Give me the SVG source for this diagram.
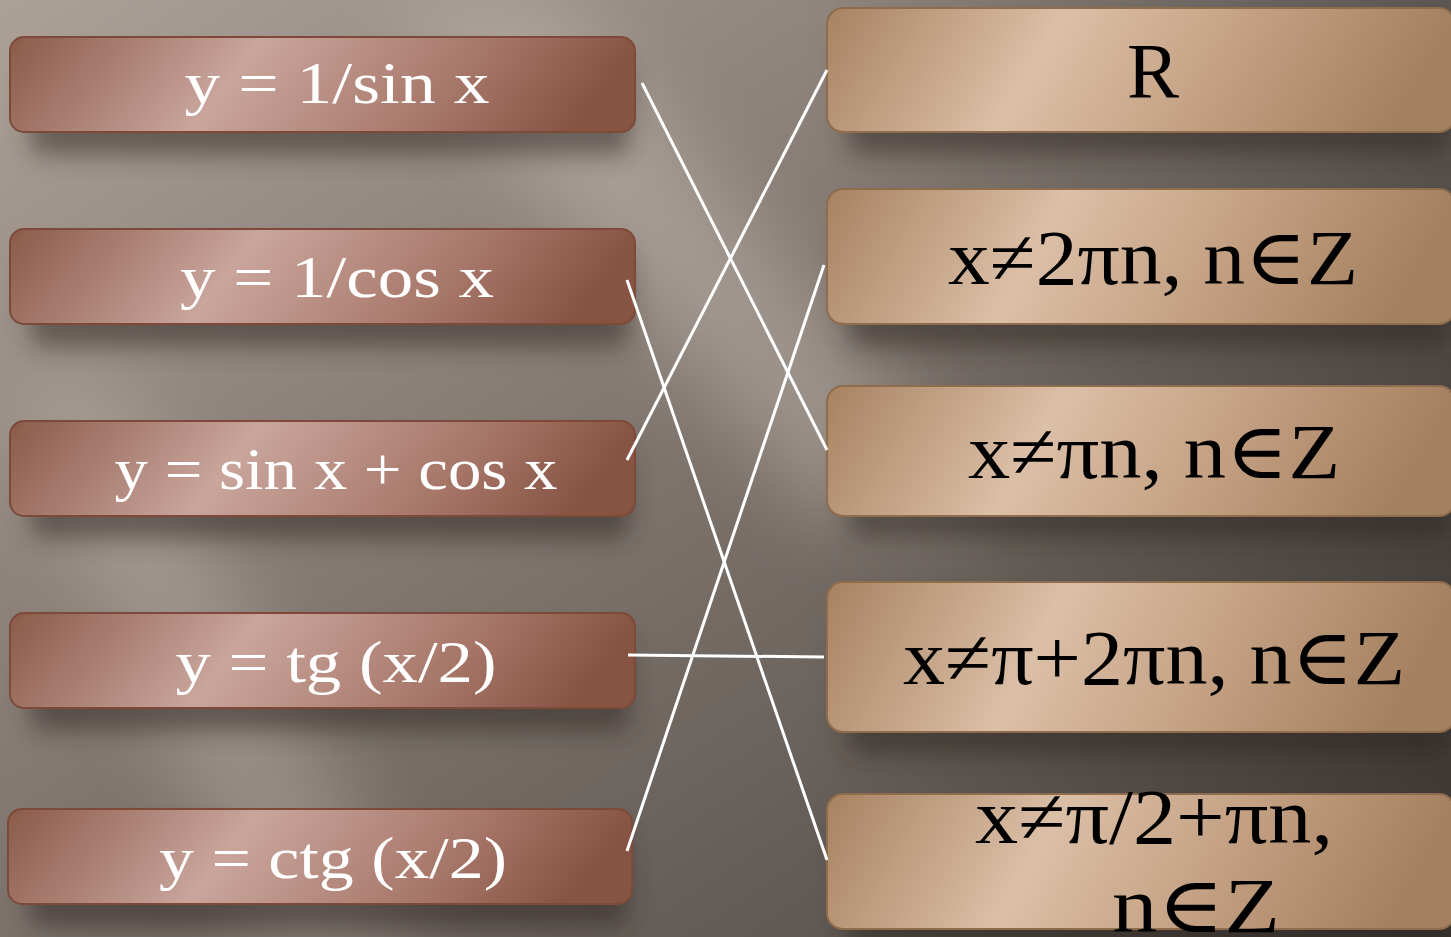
<svg xmlns="http://www.w3.org/2000/svg" width="1451" height="937" viewBox="0 0 1451 937">
<defs>
<linearGradient id="bg" x1="0" y1="0" x2="1" y2="1">
<stop offset="0" stop-color="#aca197"/>
<stop offset="0.35" stop-color="#8a8079"/>
<stop offset="0.7" stop-color="#675f59"/>
<stop offset="1" stop-color="#4d4641"/>
</linearGradient>
<linearGradient id="bgR" x1="0" y1="0" x2="1" y2="0">
<stop offset="0" stop-color="#000" stop-opacity="0"/>
<stop offset="0.55" stop-color="#000" stop-opacity="0"/>
<stop offset="1" stop-color="#000" stop-opacity="0.25"/>
</linearGradient>
<linearGradient id="lg" x1="0" y1="0" x2="1" y2="0.12">
<stop offset="0" stop-color="#8b5a4a"/>
<stop offset="0.4" stop-color="#c9a59c"/>
<stop offset="0.75" stop-color="#a8786a"/>
<stop offset="1" stop-color="#875444"/>
</linearGradient>
<linearGradient id="rg" x1="0" y1="0" x2="1" y2="0.12">
<stop offset="0" stop-color="#a78261"/>
<stop offset="0.38" stop-color="#dbbfa7"/>
<stop offset="0.7" stop-color="#c29e80"/>
<stop offset="1" stop-color="#a3805f"/>
</linearGradient>
<filter id="sh" x="-10%" y="-30%" width="120%" height="180%">
<feGaussianBlur stdDeviation="12"/>
</filter>
<filter id="blur" x="-20%" y="-20%" width="140%" height="140%">
<feGaussianBlur stdDeviation="40"/>
</filter>
<style>
.lb{fill:url(#lg);stroke:#7d4a3a;stroke-width:2}
.rb{fill:url(#rg);stroke:#8e6c4c;stroke-width:2}
.shd{fill:#2a231f;opacity:0.5;filter:url(#sh)}
.lt{font-family:"Liberation Serif","DejaVu Serif",serif;font-size:60px;fill:#ffffff;text-anchor:middle}
.rt{font-family:"Liberation Serif","DejaVu Serif",serif;font-size:78px;fill:#000000;text-anchor:middle}
.cn{stroke:#ffffff;stroke-width:3;fill:none;stroke-linecap:butt}
</style>
</defs>
<rect width="1451" height="937" fill="url(#bg)"/>
<rect width="1451" height="937" fill="url(#bgR)"/>
<g filter="url(#blur)" opacity="0.35">
<polygon points="380,0 560,0 1000,520 820,520" fill="#d6cdc5"/>
<polygon points="0,380 120,380 420,937 250,937" fill="#c8bfb8"/>
</g>
<g id="shadows">
<rect class="shd" x="30" y="60" width="600" height="95" rx="14"/>
<rect class="shd" x="30" y="252" width="600" height="95" rx="14"/>
<rect class="shd" x="30" y="444" width="600" height="95" rx="14"/>
<rect class="shd" x="30" y="636" width="600" height="95" rx="14"/>
<rect class="shd" x="28" y="832" width="600" height="95" rx="14"/>
<rect class="shd" x="847" y="30" width="604" height="124" rx="16"/>
<rect class="shd" x="847" y="212" width="604" height="135" rx="16"/>
<rect class="shd" x="847" y="408" width="604" height="130" rx="16"/>
<rect class="shd" x="847" y="605" width="604" height="150" rx="16"/>
<rect class="shd" x="847" y="817" width="604" height="135" rx="16"/>
</g>
<g id="node-l1"><rect class="lb" x="10" y="37" width="625" height="95" rx="14"/><text class="lt" x="337" y="103" textLength="305" lengthAdjust="spacingAndGlyphs">y = 1/sin x</text></g>
<g id="node-l2"><rect class="lb" x="10" y="229" width="625" height="95" rx="14"/><text class="lt" x="337" y="297" textLength="314" lengthAdjust="spacingAndGlyphs">y = 1/cos x</text></g>
<g id="node-l3"><rect class="lb" x="10" y="421" width="625" height="95" rx="14"/><text class="lt" x="336" y="489" textLength="443" lengthAdjust="spacingAndGlyphs">y = sin x + cos x</text></g>
<g id="node-l4"><rect class="lb" x="10" y="613" width="625" height="95" rx="14"/><text class="lt" x="336" y="682" textLength="321" lengthAdjust="spacingAndGlyphs">y = tg (x/2)</text></g>
<g id="node-l5"><rect class="lb" x="8" y="809" width="624" height="95" rx="14"/><text class="lt" x="333" y="878" textLength="348" lengthAdjust="spacingAndGlyphs">y = ctg (x/2)</text></g>
<g id="node-r1"><rect class="rb" x="827" y="8" width="628" height="124" rx="16"/><text class="rt" x="1153" y="97">R</text></g>
<g id="node-r2"><rect class="rb" x="827" y="189" width="628" height="135" rx="16"/><text class="rt" x="1153" y="284" textLength="410" lengthAdjust="spacingAndGlyphs">x≠2πn, n∈Z</text></g>
<g id="node-r3"><rect class="rb" x="827" y="386" width="628" height="130" rx="16"/><text class="rt" x="1154" y="478" textLength="372" lengthAdjust="spacingAndGlyphs">x≠πn, n∈Z</text></g>
<g id="node-r4"><rect class="rb" x="827" y="582" width="628" height="150" rx="16"/><text class="rt" x="1154" y="684" textLength="502" lengthAdjust="spacingAndGlyphs">x≠π+2πn, n∈Z</text></g>
<g id="node-r5"><rect class="rb" x="827" y="794" width="628" height="135" rx="16"/><text class="rt" x="1154" y="843" textLength="358" lengthAdjust="spacingAndGlyphs">x≠π/2+πn,</text><text class="rt" x="1196" y="932" textLength="168" lengthAdjust="spacingAndGlyphs">n∈Z</text></g>
<g id="connectors">
<line class="cn" x1="642" y1="83" x2="827" y2="450"/>
<line class="cn" x1="627" y1="280" x2="827" y2="860"/>
<line class="cn" x1="627" y1="460" x2="827" y2="70"/>
<line class="cn" x1="628" y1="655" x2="824" y2="657"/>
<line class="cn" x1="627" y1="851" x2="824" y2="265"/>
</g>
</svg>
